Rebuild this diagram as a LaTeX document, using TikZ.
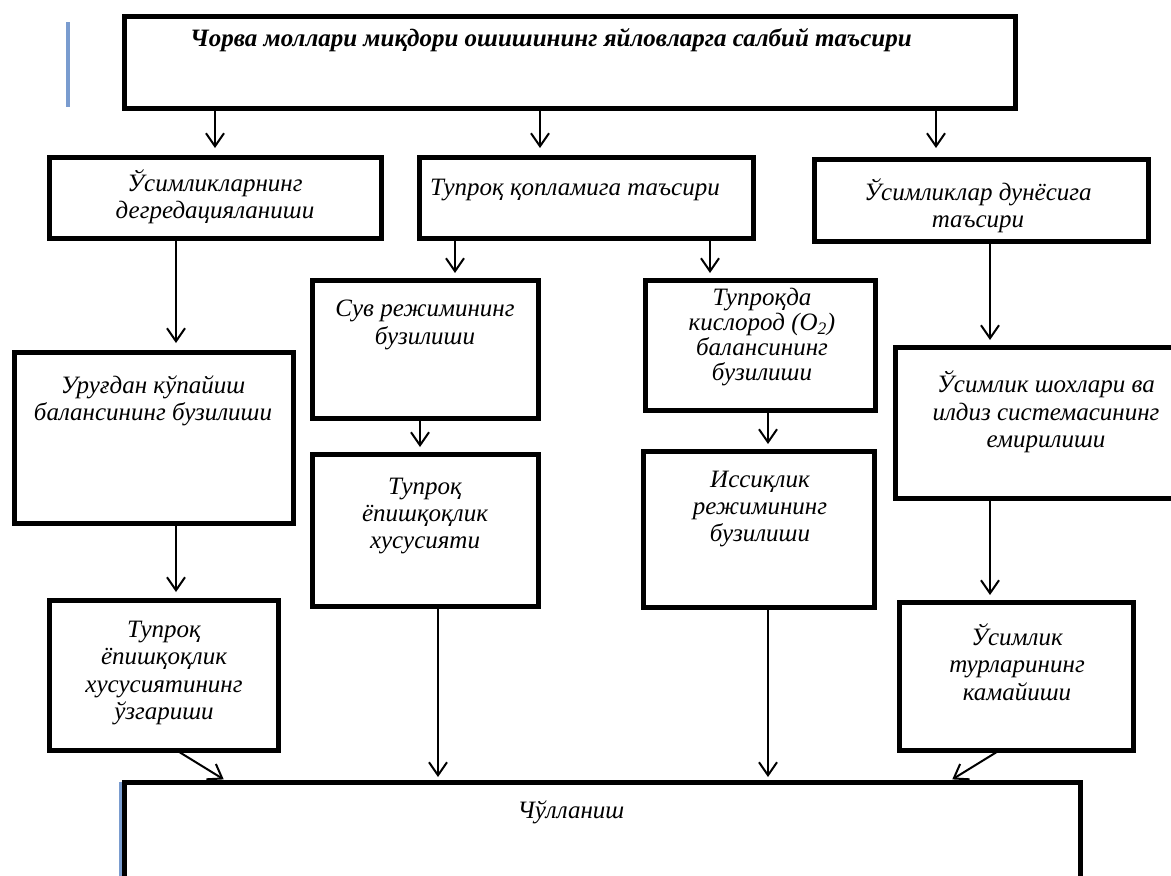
\documentclass[tikz,border=0pt]{standalone}
\usepackage{fontspec}
\setmainfont{Liberation Serif}
\usetikzlibrary{arrows.meta}
\definecolor{marginblue}{RGB}{122,156,207}
\tikzset{
  box/.style={draw, rectangle, line width=5pt, inner sep=0pt, outer sep=0pt},
  lbl/.style={inner sep=0pt, align=center, font=\itshape\fontsize{25}{27.4}\selectfont},
  tight/.style={font=\itshape\fontsize{25}{24.8}\selectfont},
  ttl/.style={inner sep=0pt, font=\bfseries\itshape\fontsize{25}{27.4}\selectfont},
  arr/.style={line width=2pt, -{Straight Barb[length=13pt,width=18pt,line width=2pt]}},
  gap/.style={shorten >=#1},
  margin/.style={draw=marginblue, line width=3.5pt}
}
\begin{document}
\begin{tikzpicture}[x=1pt,y=-1pt]
\useasboundingbox (0,0) rectangle (1171,876);
\clip (0,0) rectangle (1171,876);
\fill[white] (0,0) rectangle (1171,876);

% margin rules
\draw[margin] (68,22) -- (68,107);

% boxes
\node[box, minimum width=891pt, minimum height=92pt] (top) at (569.5,62) {};
\node[box, minimum width=332pt, minimum height=81pt] (A) at (215,197.5) {};
\node[box, minimum width=334pt, minimum height=81pt] (B) at (586,197.5) {};
\node[box, minimum width=334pt, minimum height=82pt] (C) at (981,200) {};
\node[box, minimum width=279pt, minimum height=171pt] (D) at (153.5,437.5) {};
\node[box, minimum width=226pt, minimum height=138pt] (E) at (425,349) {};
\node[box, minimum width=230pt, minimum height=130pt] (F) at (760,345) {};
\node[box, minimum width=295pt, minimum height=151pt] (G) at (1042.5,422.5) {};
\node[box, minimum width=229pt, minimum height=150pt] (H) at (163.5,675) {};
\node[box, minimum width=226pt, minimum height=152pt] (I) at (425,530) {};
\node[box, minimum width=231pt, minimum height=156pt] (J) at (758.5,529) {};
\node[box, minimum width=234pt, minimum height=148pt] (K) at (1016,676) {};
\node[box, minimum width=956pt, minimum height=118pt] (bot) at (602,841) {};
\draw[margin] (120.5,782) -- (120.5,876);

% texts
\node[ttl] (tTop) at (551,40) {Чорва моллари миқдори ошишининг яйловларга салбий таъсири};
\node[lbl] (tA) at (215,197) {Ўсимликларнинг\\дегредацияланиши};
\node[lbl] (tB) at (575,190) {Тупроқ қопламига таъсири};
\node[lbl] (tC) at (978,206) {Ўсимликлар дунёсига\\таъсири};
\node[lbl] (tD) at (153,401) {Уруғдан кўпайиш\\балансининг бузилиши};
\node[lbl] (tE) at (425,325) {Сув режимининг\\бузилиши};
\node[lbl, tight] (tF) at (762,337) {Тупроқда\\кислород (O\textsubscript{2})\\балансининг\\бузилиши};
\node[lbl] (tG) at (1046,412) {Ўсимлик шохлари ва\\илдиз системасининг\\емирилиши};
\node[lbl] (tH) at (164,673) {Тупроқ\\ёпишқоқлик\\хусусиятининг\\ўзгариши};
\node[lbl] (tI) at (425,516) {Тупроқ\\ёпишқоқлик\\хусусияти};
\node[lbl] (tJ) at (760,509) {Иссиқлик\\режимининг\\бузилиши};
\node[lbl] (tK) at (1017,662) {Ўсимлик\\турларининг\\камайиши};
\node[lbl] (tBot) at (571,812) {Чўлланиш};

% connector columns
\coordinate (v176) at (176,0);
\coordinate (v215) at (215,0);
\coordinate (v228) at (228,0);
\coordinate (v420) at (420,0);
\coordinate (v438) at (438,0);
\coordinate (v455) at (455,0);
\coordinate (v540) at (540,0);
\coordinate (v710) at (710,0);
\coordinate (v768) at (768,0);
\coordinate (v936) at (936,0);
\coordinate (v948) at (948,0);
\coordinate (v990) at (990,0);
\coordinate (v1000) at (1000,0);

% connectors
\draw[arr, gap=9pt]  (top.south -| v215) -- (A.north -| v215);
\draw[arr, gap=9pt]  (top.south -| v540) -- (B.north -| v540);
\draw[arr, gap=11pt] (top.south -| v936) -- (C.north -| v936);
\draw[arr, gap=9pt]  (A.south -| v176) -- (D.north -| v176);
\draw[arr, gap=7pt]  (B.south -| v455) -- (E.north -| v455);
\draw[arr, gap=7pt]  (B.south -| v710) -- (F.north -| v710);
\draw[arr, gap=7pt]  (C.south -| v990) -- (G.north -| v990);
\draw[arr, gap=7pt]  (E.south -| v420) -- (I.north -| v420);
\draw[arr, gap=7pt]  (F.south -| v768) -- (J.north -| v768);
\draw[arr, gap=8pt]  (D.south -| v176) -- (H.north -| v176);
\draw[arr, gap=7pt]  (G.south -| v990) -- (K.north -| v990);
\draw[arr, gap=5pt]  (H.south -| v176) -- (bot.north -| v228);
\draw[arr, gap=5pt]  (I.south -| v438) -- (bot.north -| v438);
\draw[arr, gap=5pt]  (J.south -| v768) -- (bot.north -| v768);
\draw[arr, gap=5pt]  (K.south -| v1000) -- (bot.north -| v948);
\end{tikzpicture}
\end{document}
